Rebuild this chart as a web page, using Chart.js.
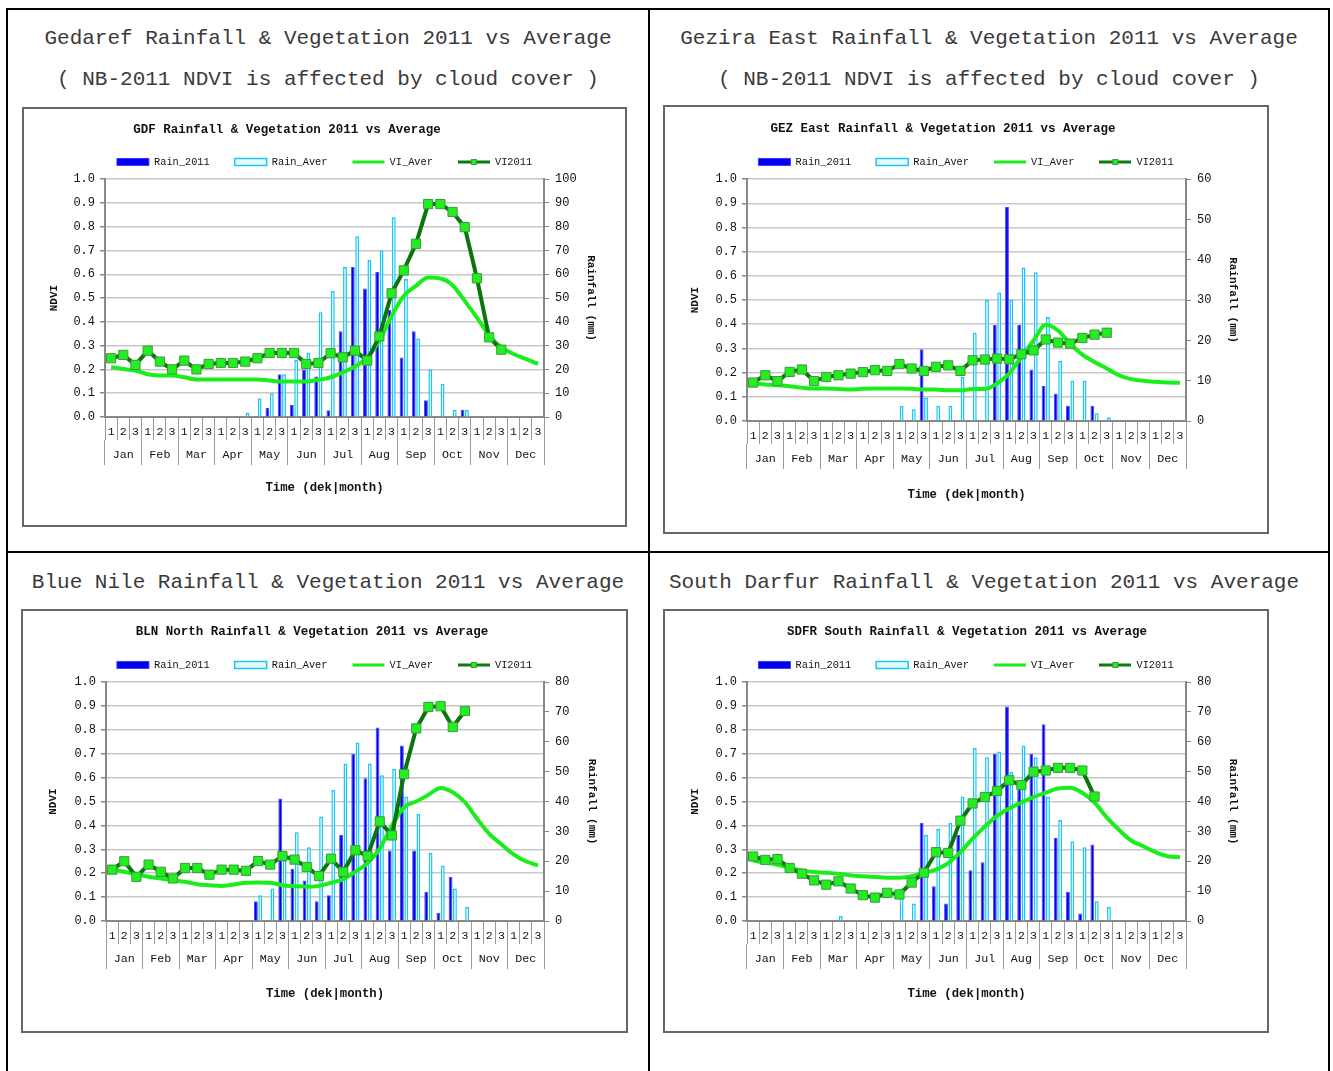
<!DOCTYPE html>
<html>
<head>
<meta charset="utf-8">
<title>Rainfall & Vegetation 2011 vs Average</title>
<script src="https://cdn.jsdelivr.net/npm/chart.js@4.4.1/dist/chart.umd.min.js"></script>
<style>
  body { margin: 0; background: #fff; width: 1333px; height: 1071px; overflow: hidden; position: relative;
         font-family: "Liberation Mono", "Courier New", monospace; }
  .ln { position: absolute; background: #000; }
  .cap { position: absolute; font-size: 21px; color: #3a3a3a; text-align: center; white-space: nowrap; line-height: 24px; }
  .box { position: absolute; border: 2px solid #666; box-sizing: border-box; background: #fff; }
  .box canvas { display: block; }
</style>
</head>
<body>

<!-- table lines -->
<div class="ln" style="left:6px;top:8px;width:1324px;height:2px"></div>
<div class="ln" style="left:6px;top:551px;width:1324px;height:2px"></div>
<div class="ln" style="left:6px;top:8px;width:2px;height:1063px"></div>
<div class="ln" style="left:648px;top:8px;width:2px;height:1063px"></div>
<div class="ln" style="left:1328px;top:8px;width:2px;height:1063px"></div>

<div class="cap" style="left:8px;width:640px;top:27px">Gedaref Rainfall &amp; Vegetation 2011 vs Average</div>
<div class="cap" style="left:8px;width:640px;top:68px">( NB-2011 NDVI is affected by cloud cover )</div>
<div class="cap" style="left:650px;width:678px;top:27px">Gezira East Rainfall &amp; Vegetation 2011 vs Average</div>
<div class="cap" style="left:650px;width:678px;top:68px">( NB-2011 NDVI is affected by cloud cover )</div>
<div class="cap" style="left:8px;width:640px;top:571px">Blue Nile Rainfall &amp; Vegetation 2011 vs Average</div>
<div class="cap" style="left:650px;width:668px;top:571px">South Darfur Rainfall &amp; Vegetation 2011 vs Average</div>

<div class="box" style="left:22px;top:107px;width:605px;height:420px"><canvas id="gdf" width="601" height="416"></canvas></div>
<div class="box" style="left:663px;top:105px;width:606px;height:429px"><canvas id="gez" width="602" height="425"></canvas></div>
<div class="box" style="left:21px;top:609px;width:607px;height:424px"><canvas id="bln" width="603" height="420"></canvas></div>
<div class="box" style="left:663px;top:609px;width:606px;height:424px"><canvas id="sdf" width="602" height="420"></canvas></div>

<script>
// x axis labels
const months = ['Jan','Feb','Mar','Apr','May','Jun','Jul','Aug','Sep','Oct','Nov','Dec']
const dekads = months.flatMap(() => ['1','2','3'])

// Gedaref (GDF)
const gdfRain2011 = [0,0,0, 0,0,0, 0,0,0, 0,0,0, 0,3.8,18, 5,20,17, 2.8,36,63, 54,61,45, 25,36,7, 0,0,3, 0,0,0, 0,0,0]
const gdfRainAver = [0,0,0, 0,0,0, 0,0,0, 0,0,1.8, 7.9,10,18, 24,27,44, 53,63,76, 66,70,84, 58,33,20, 14,3,3, 0,0,0, 0,0,0]
const gdfViAver = [0.209,0.202,0.195, 0.18,0.174,0.174, 0.167,0.158,0.158, 0.158,0.158,0.158, 0.158,0.153,0.149, 0.149,0.149,0.156, 0.167,0.188,0.212, 0.251,0.321,0.425, 0.509,0.551,0.586, 0.582,0.554,0.488, 0.418,0.344,0.293, 0.265,0.244,0.223]
const gdfVi2011 = [0.247,0.261,0.219, 0.279,0.233,0.2, 0.237,0.2,0.223, 0.227,0.227,0.233, 0.247,0.269,0.269, 0.269,0.223,0.227, 0.268,0.251,0.279, 0.237,0.339,0.52, 0.616,0.728,0.895, 0.895,0.862,0.798, 0.583,0.335,0.283, null,null,null]

// Gezira East (GEZ)
const gezRain2011 = [0,0,0, 0,0,0, 0,0,0, 0,0,0, 0,0,17.8, 0,0,0, 0,0,23.9, 53.1,23.9,12.8, 8.7,6.8,3.8, 0,3.8,0, 0,0,0, 0,0,0]
const gezRainAver = [0,0,0, 0,0,0, 0,0,0, 0,0,0, 3.8,2.9,5.8, 3.8,3.8,10.9, 21.9,30,31.9, 30,38.1,36.9, 25.8,14.9,10, 10,1.9,0.9, 0,0,0, 0,0,0]
const gezViAver = [0.155,0.151,0.148, 0.144,0.138,0.134, 0.134,0.132,0.13, 0.133,0.134,0.134, 0.134,0.133,0.13, 0.13,0.127,0.127, 0.132,0.132,0.155, 0.196,0.265,0.333, 0.398,0.374,0.32, 0.274,0.244,0.217, 0.189,0.173,0.166, 0.162,0.159,0.158]
const gezVi2011 = [0.159,0.189,0.165, 0.203,0.213,0.165, 0.182,0.189,0.196, 0.202,0.21,0.207, 0.235,0.217,0.207, 0.224,0.23,0.207, 0.251,0.254,0.258, 0.255,0.276,0.292, 0.337,0.324,0.32, 0.343,0.357,0.365, null,null,null, null,null,null]

// Blue Nile North (BLN)
const blnRain2011 = [0,0,0, 0,0,0, 0,0,0, 0,0,0, 6.6,0,41, 17.5,13.6,6.6, 8.6,28.9,56, 47.8,64.8,23.6, 58.8,23.6,9.8, 2.8,14.7,0, 0,0,0, 0,0,0]
const blnRainAver = [0,0,0, 0,0,0, 0,0,0, 0,0,0, 8.6,10.9,20.3, 29.7,24.7,35, 43.9,52.7,59.8, 52.7,48.8,51, 41.7,35.8,22.8, 18.6,10.9,4.8, 0,0,0, 0,0,0]
const blnViAver = [0.215,0.206,0.196, 0.185,0.178,0.171, 0.164,0.154,0.15, 0.147,0.153,0.16, 0.161,0.16,0.15, 0.146,0.143,0.147, 0.16,0.175,0.206, 0.243,0.303,0.4, 0.476,0.5,0.528, 0.557,0.539,0.497, 0.428,0.365,0.321, 0.279,0.25,0.233]
const blnVi2011 = [0.215,0.25,0.185, 0.236,0.206,0.178, 0.222,0.222,0.194, 0.215,0.215,0.21, 0.251,0.236,0.272, 0.257,0.226,0.188, 0.261,0.206,0.296, 0.272,0.417,0.358, 0.615,0.806,0.896, 0.899,0.812,0.879, null,null,null, null,null,null]

// South Darfur South (SDFR)
const sdfRain2011 = [0,0,0, 0,0,0, 0,0,0, 0,0,0, 0,0,32.8, 11.6,5.9,28.8, 17,19.7,56, 71.8,45.2,56, 65.9,27.8,9.8, 2.5,25.6,0, 0,0,0, 0,0,0]
const sdfRainAver = [0,0,0, 0,0,0, 0,1.7,0, 0,0,0, 10.9,5.9,28.9, 30.8,32.8,41.7, 57.9,54.8,56.8, 49.9,58.7,54.8, 41.7,33.8,26.7, 24.7,6.6,4.8, 0,0,0, 0,0,0]
const sdfViAver = [0.253,0.244,0.235, 0.223,0.212,0.205, 0.202,0.198,0.191, 0.187,0.184,0.181, 0.181,0.187,0.202, 0.215,0.242,0.288, 0.345,0.395,0.44, 0.471,0.496,0.519, 0.537,0.555,0.558, 0.537,0.496,0.434, 0.382,0.337,0.313, 0.288,0.271,0.267]
const sdfVi2011 = [0.27,0.256,0.259, 0.222,0.198,0.17, 0.152,0.166,0.136, 0.108,0.098,0.118, 0.111,0.161,0.202, 0.288,0.285,0.42, 0.492,0.519,0.544, 0.589,0.569,0.625, 0.63,0.641,0.641, 0.63,0.521,null, null,null,null, null,null,null]

Chart.defaults.font.family = '"Liberation Mono", "Courier New", monospace'
Chart.defaults.color = '#111'

// legend icon for VI2011: line with a small square marker
const vi2011Icon = document.createElement('canvas')
vi2011Icon.width = 32
vi2011Icon.height = 10
const g = vi2011Icon.getContext('2d')
g.strokeStyle = '#0d7a0d'
g.lineWidth = 3
g.beginPath(); g.moveTo(0, 5); g.lineTo(32, 5); g.stroke()
g.fillStyle = '#22ee22'
g.fillRect(13, 2, 6, 6)
g.strokeStyle = '#3c9c3c'
g.lineWidth = 1
g.strokeRect(13.5, 2.5, 5, 5)

// chart caption drawn at a fixed spot (it sits left of centre in the original)
const captionPlugin = {
  id: 'caption',
  afterDraw(chart, args, opts) {
    const ctx = chart.ctx
    ctx.save()
    ctx.font = 'bold 12.5px "Liberation Mono", monospace'
    ctx.fillStyle = '#111'
    ctx.textAlign = 'center'
    ctx.textBaseline = 'middle'
    ctx.fillText(opts.text, opts.x, opts.y)
    ctx.restore()
  }
}

// move the legend row up a little, keeping the plot top where it is
const legendNudge = {
  id: 'legendNudge',
  afterLayout(chart) {
    chart.legend.top -= 2
    chart.legend.bottom -= 2
  }
}

function legendItems(chart) {
  return chart.data.datasets.map((ds, i) => ({
    text: ds.label,
    datasetIndex: i,
    hidden: false,
    fillStyle: ds.legendFill,
    strokeStyle: ds.legendStroke,
    lineWidth: ds.legendLine,
    pointStyle: ds.legendPoint,
    fontColor: '#111'
  }))
}

function drawChart(cfg) {
  const ctx = document.getElementById(cfg.id).getContext('2d')
  return new Chart(ctx, {
    type: 'bar',
    data: {
      labels: dekads,
      datasets: [
        {
          type: 'bar', label: 'Rain_2011', data: cfg.rain2011, xAxisID: 'x', yAxisID: 'y1',
          backgroundColor: '#0000ee', borderColor: '#4a4aff', borderWidth: 1,
          categoryPercentage: 0.72, barPercentage: 0.88, order: 3,
          legendFill: '#0000ee', legendStroke: '#3a3aff', legendLine: 1, legendPoint: 'rect'
        },
        {
          type: 'bar', label: 'Rain_Aver', data: cfg.rainAver, xAxisID: 'x', yAxisID: 'y1',
          backgroundColor: '#e6fbff', borderColor: '#19c6f5', borderWidth: 1.5,
          categoryPercentage: 0.72, barPercentage: 0.88, order: 3,
          legendFill: '#e6fbff', legendStroke: '#19c6f5', legendLine: 1.5, legendPoint: 'rect'
        },
        {
          type: 'line', label: 'VI_Aver', data: cfg.viAver, xAxisID: 'x', yAxisID: 'y',
          borderColor: '#1aee1a', borderWidth: 4, pointRadius: 0, cubicInterpolationMode: 'monotone', order: 2,
          legendFill: '#1aee1a', legendStroke: '#1aee1a', legendLine: 3, legendPoint: 'line'
        },
        {
          type: 'line', label: 'VI2011', data: cfg.vi2011, xAxisID: 'x', yAxisID: 'y',
          borderColor: '#0b740b', borderWidth: 4, tension: 0,
          pointStyle: 'rect', pointRadius: 6.5, pointBackgroundColor: '#22ee22',
          pointBorderColor: '#3c9c3c', pointBorderWidth: 1, order: 1,
          legendFill: '#22ee22', legendStroke: '#0b740b', legendLine: 1, legendPoint: vi2011Icon
        }
      ]
    },
    options: {
      responsive: false,
      animation: false,
      layout: { padding: { top: cfg.legendY - 27.2, left: 0, right: 0, bottom: 0 } },
      plugins: {
        legend: {
          position: 'top',
          labels: {
            font: { size: 10.3 }, color: '#111', usePointStyle: true, pointStyleWidth: 32,
            boxHeight: 7, padding: 25, generateLabels: legendItems
          }
        },
        tooltip: { enabled: false },
        caption: { text: cfg.caption, x: cfg.capX, y: cfg.capY }
      },
      scales: {
        x: {
          type: 'category', position: 'bottom', weight: 0, offset: true,
          grid: { offset: true, drawOnChartArea: false, tickLength: 23, color: '#999' },
          border: { color: '#888', width: 2 },
          ticks: { autoSkip: false, maxRotation: 0, minRotation: 0, padding: -15, font: { size: 11.5 } },
          afterFit(s) { s.height = 23 }
        },
        x2: {
          type: 'category', labels: months, position: 'bottom', weight: 1, offset: true,
          grid: { offset: true, drawOnChartArea: false, tickLength: 25, color: '#999' },
          border: { display: false },
          ticks: { autoSkip: false, maxRotation: 0, minRotation: 0, padding: -17, font: { size: 11.7 } },
          title: { display: true, text: 'Time (dek|month)', font: { size: 12.3, weight: 'bold' }, padding: { top: 0, bottom: 30 } },
          afterFit(s) { s.height = cfg.bottom - 23 }
        },
        y: {
          position: 'left', min: 0, max: 1,
          ticks: { stepSize: 0.1, callback: v => v.toFixed(1), padding: 5, font: { size: 12 } },
          grid: { color: '#c8c8c8', lineWidth: 1.5, tickLength: 5, tickColor: '#888' },
          border: { color: '#888', width: 2 },
          title: { display: true, text: 'NDVI', font: { size: 11, weight: 'bold' }, padding: { top: 24, bottom: 0 } },
          afterFit(s) { s.width = cfg.left }
        },
        y1: {
          position: 'right', min: 0, max: cfg.rainMax,
          ticks: { stepSize: 10, padding: 6, font: { size: 12 } },
          grid: { drawOnChartArea: false, tickLength: 5, color: '#888' },
          border: { color: '#888', width: 2 },
          title: { display: true, text: 'Rainfall (mm)', font: { size: 11, weight: 'bold' }, padding: { top: 28, bottom: 0 } },
          afterFit(s) { s.width = cfg.right }
        }
      }
    },
    plugins: [captionPlugin, legendNudge]
  })
}

drawChart({ id: 'gdf', caption: 'GDF Rainfall & Vegetation 2011 vs Average', capX: 263, capY: 21, legendY: 52,
  left: 81, right: 81, bottom: 108, rainMax: 100,
  rain2011: gdfRain2011, rainAver: gdfRainAver, viAver: gdfViAver, vi2011: gdfVi2011 })

drawChart({ id: 'gez', caption: 'GEZ East Rainfall & Vegetation 2011 vs Average', capX: 278, capY: 22, legendY: 54,
  left: 82, right: 81, bottom: 111, rainMax: 60,
  rain2011: gezRain2011, rainAver: gezRainAver, viAver: gezViAver, vi2011: gezVi2011 })

drawChart({ id: 'bln', caption: 'BLN North Rainfall & Vegetation 2011 vs Average', capX: 289, capY: 21, legendY: 53,
  left: 83, right: 82, bottom: 110, rainMax: 80,
  rain2011: blnRain2011, rainAver: blnRainAver, viAver: blnViAver, vi2011: blnVi2011 })

drawChart({ id: 'sdf', caption: 'SDFR South Rainfall & Vegetation 2011 vs Average', capX: 302, capY: 21, legendY: 53,
  left: 82, right: 81, bottom: 110, rainMax: 80,
  rain2011: sdfRain2011, rainAver: sdfRainAver, viAver: sdfViAver, vi2011: sdfVi2011 })
</script>
</body>
</html>
